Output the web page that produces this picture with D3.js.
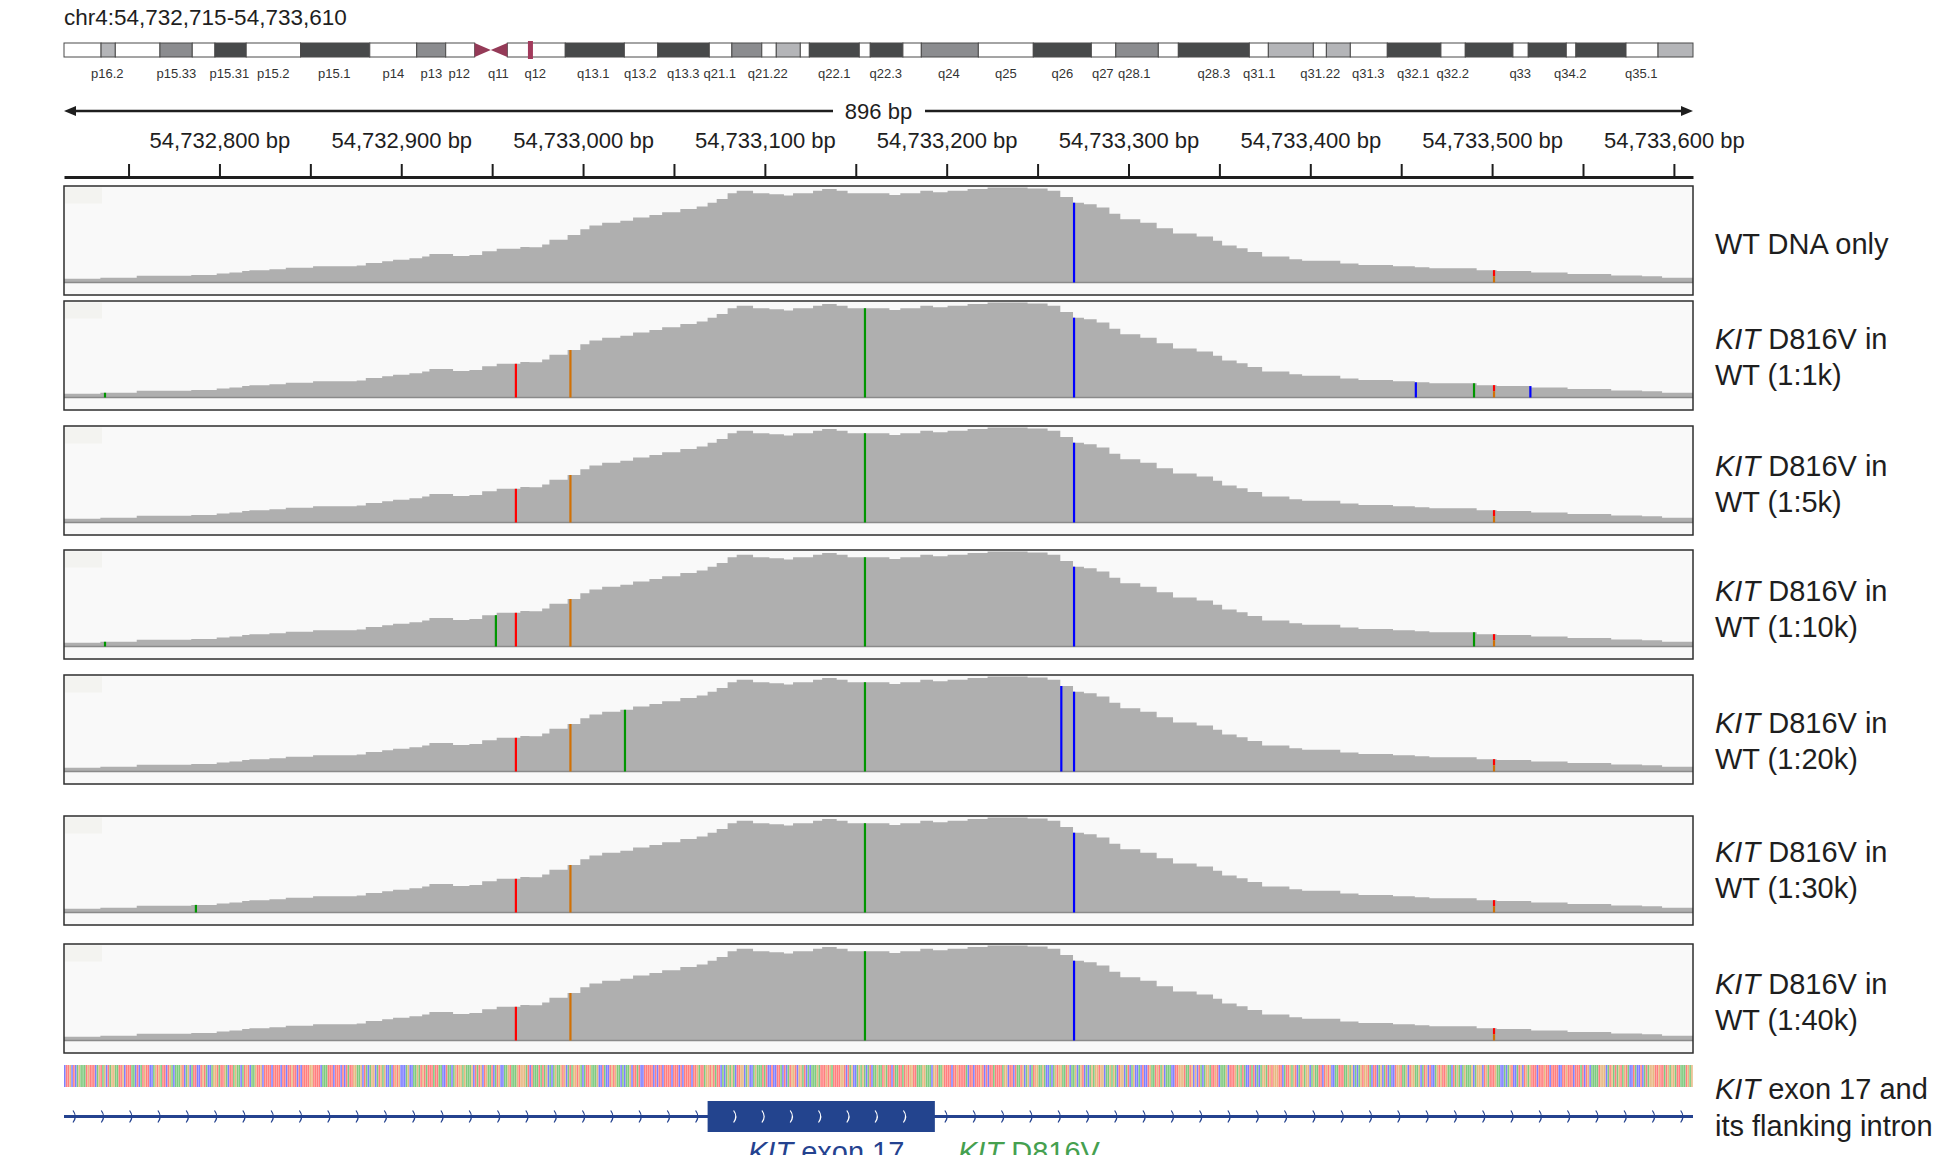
<!DOCTYPE html>
<html>
<head>
<meta charset="utf-8">
<script src="https://cdn.jsdelivr.net/npm/d3@7"></script>
<style>
  body { margin: 0; background: #fff; }
  svg { display: block; font-family: "Liberation Sans", Arial, sans-serif; }
</style>
</head>
<body>
<svg width="1938" height="1155"></svg>
<script>
// region shown (hg38)
const chrom = 'chr4';
const regionStart = 54732715;
const regionEnd = 54733610;
const chrLengthMb = 191.15;

// chr4 ideogram bands (start in Mb, stain)
const bandStartMb = [0, 4.35, 6.02, 11.26, 15.05, 17.71, 21.38, 27.76, 35.88, 41.39, 44.79, 48.19, 50.08,
  52.02, 58.82, 65.75, 69.68, 75.72, 78.37, 81.88, 83.58, 86.4, 87.46, 93.32, 94.61, 98.44, 100.6,
  107.29, 113.74, 120.55, 123.42, 128.41, 130.76, 139.09, 141.32, 146.6, 148.13, 150.94, 155.28,
  161.57, 164.43, 170.02, 171.82, 176.28, 177.41, 183.29, 187.05];
const bandStain = ['gneg', 'gpos25', 'gneg', 'gpos50', 'gneg', 'gpos75', 'gneg', 'gpos100', 'gneg', 'gpos50',
  'gneg', 'acenL', 'acenR', 'gneg', 'gpos100', 'gneg', 'gpos75', 'gneg', 'gpos50', 'gneg', 'gpos25', 'gneg',
  'gpos100', 'gneg', 'gpos100', 'gneg', 'gpos50', 'gneg', 'gpos100', 'gneg', 'gpos50', 'gneg', 'gpos100',
  'gneg', 'gpos25', 'gneg', 'gpos25', 'gneg', 'gpos100', 'gneg', 'gpos100', 'gneg', 'gpos100', 'gneg',
  'gpos100', 'gneg', 'gpos25'];
const bandLabels = ['p16.2', 'p15.33', 'p15.31', 'p15.2', 'p15.1', 'p14', 'p13', 'p12', 'q11', 'q12',
  'q13.1', 'q13.2', 'q13.3', 'q21.1', 'q21.22', 'q22.1', 'q22.3', 'q24', 'q25', 'q26', 'q27', 'q28.1',
  'q28.3', 'q31.1', 'q31.22', 'q31.3', 'q32.1', 'q32.2', 'q33', 'q34.2', 'q35.1'];
const bandLabelMb = [5.08, 13.18, 19.4, 24.56, 31.72, 38.64, 43.1, 46.38, 50.96, 55.3, 62.11, 67.63,
  72.67, 76.95, 82.58, 90.39, 96.43, 103.84, 110.51, 117.14, 121.89, 125.59, 134.93, 140.26, 147.41,
  153.04, 158.32, 162.96, 170.88, 176.75, 185.08];

// coverage profile: step starts (bp from regionStart) and relative depth (% of max)
const covOffset = [0, 20, 40, 70, 84, 91, 98, 102, 113, 122, 137, 161, 166, 175, 181, 190, 197, 201, 214, 223,
  230, 238, 251, 256, 263, 267, 277, 284, 289, 296, 306, 313, 322, 329, 339, 348, 354, 359, 365, 370,
  379, 388, 396, 401, 412, 417, 425, 431, 449, 454, 460, 471, 478, 486, 497, 508, 530, 541, 548, 555,
  561, 568, 575, 581, 592, 601, 610, 623, 632, 637, 645, 651, 659, 674, 681, 702, 712, 731, 743, 751,
  777, 788, 807, 827, 851, 868, 879];
const covDepth = [4, 5, 7, 8, 9.5, 10.5, 12, 13, 14, 15.5, 17, 18, 20.5, 22.5, 24, 25.5, 27.5, 30, 28, 29,
  33, 35.5, 37.5, 37, 40, 45, 50, 56, 60, 63, 65, 68.5, 71, 74, 77.5, 80, 84, 88, 94, 96.5,
  94, 93, 91.5, 94, 96.5, 98.5, 96.5, 94, 94, 92, 94, 96.5, 95, 96.5, 98.5, 100, 99, 96.5, 90, 84,
  82.5, 79, 72.5, 66.5, 63, 57, 51.5, 48.5, 44, 39, 36, 32, 27.5, 24.5, 23, 20, 18.5, 17, 16, 15,
  13, 12, 10.5, 9, 7.5, 6.5, 5];

// samples
const sampleRatios = ['', '1:1k', '1:5k', '1:10k', '1:20k', '1:30k', '1:40k'];

// mismatch columns per sample: [position, bases (top to bottom)]
const shared = [[54732963, 'T'], [54732993, 'G'], [54733155, 'A'], [54733270, 'C'], [54733501, 'TG']];
const mismatches = [
  [[54733270, 'C'], [54733501, 'TG']],
  shared.concat([[54732737, 'A'], [54733458, 'C'], [54733490, 'A'], [54733521, 'C']]),
  shared,
  shared.concat([[54732737, 'A'], [54732952, 'A'], [54733490, 'A']]),
  shared.concat([[54733023, 'A'], [54733263, 'C']]),
  shared.concat([[54732787, 'A']]),
  shared
];

// reference sequence, intron 16 / exon 17 / intron 17
const refSeq =
  'CTTGCTCAGAAATGTTTCAGTAGCTAGGAATTGCTTTAACTCATGTTCCA' +
  'GTGATTCTGACAAAGTCAGCATTCCTGTACCAGGTATTGACTTAGAACAT' +
  'GTCAAGTTGCTTTTCTTTTCTTCTTGTTCTCTTTTGGTTTTCAAATTTCT' +
  'TTCTCTATTGGAAGCTACAGGCATGAGCCACTGTGCCCAGCCAAGATGTA' +
  'TTTATTAACCTAACAGTGGAGAAAGCTATGCTGAATCATGCCAAGTAAAG' +
  'TGGGATCTAAATATAGCACAGAAGTGCATAGGTGACATTGAAAGCCTACC' +
  'TGTGAACACAAGCTTATCCTTTTTCTCTTCTTTTCTTTCTCTTTTCTTGA' +
  'TTAG' +
  'GTGTATTCACAGAGACTTGGCAGCCAGAAATATCCTCCTTACTCATGGTC' +
  'GGATCACAAAGATTTGTGATTTTGGTCTAGCCAGAGACATCAAGAATGAT' +
  'TCTAATTATGTGGTTAAAGGAAACG' +
  'GTAAGTTTTCTTGTTTTACTTCTTTGTCTCTTATTTTAGGCTTCTAATGC' +
  'AGCATGGAAGACCACAGTGGAATGCAAGCAGTCACAGAGGTGGCAAGAGA' +
  'CTGGCATCAGCCACTCCTGAATGTAGCAAACCTTGGGTAATGCGCTACAG' +
  'GATTGTCAAAGCTTTGAGATACCTATCACAGGATGTGGGTTCATTGAGTC' +
  'ATGAGGCAGAATTCTGTGCCAATTTAAGAGCACAGTGGTACTTCAGCATC' +
  'ACCTGGTAAGCTGGAAGCATGCTCCAGTGTTGAACTAGACAGAAAGCAGG' +
  'GCTGATTTGAACCACAGTCCATGCTGAGTTTCTTTGTTCTTTTCCTTGTT' +
  'TCTTTATCTGCAAAATGGGCATGATAGTAGTACCTACCTCATAGGGTTGT' +
  'TATGAGGATTAAATGAG';

const exonStart = 54733069, exonEnd = 54733193;

// layout
const left = 64, right = 1693;
const panelTop = [186, 301, 426, 550, 675, 816, 944];
const panelH = 109;
const labelBase = [254, 349, 476, 601, 733, 862, 994];

const baseColor = { A: '#009600', C: '#0000ff', G: '#d17105', T: '#ff0000' };
const stainColor = { gneg: '#ffffff', gpos25: '#b4b5b8', gpos50: '#8b8c8f', gpos75: '#47494a', gpos100: '#47494a' };
const ink = '#1e1e1e';
const kitBlue = '#24428f';

const svg = d3.select('svg');
svg.append('rect').attr('width', 1938).attr('height', 1155).attr('fill', '#fff');

const x = d3.scaleLinear().domain([regionStart - 0.5, regionEnd + 0.5]).range([left, right]);
const xMb = d3.scaleLinear().domain([0, chrLengthMb]).range([left, right]);
const bpW = x(1) - x(0);

// title
svg.append('text').attr('x', left).attr('y', 25)
  .attr('font-size', 22.5).attr('fill', ink)
  .text(chrom + ':' + d3.format(',')(regionStart) + '-' + d3.format(',')(regionEnd));

// ideogram
const ideo = svg.append('g');
const bands = bandStartMb.map((s, i) => ({
  start: s, end: i < bandStartMb.length - 1 ? bandStartMb[i + 1] : chrLengthMb, stain: bandStain[i]
}));
const iy = 43, ih = 14;
ideo.selectAll('rect.band')
  .data(bands.filter(b => !b.stain.startsWith('acen')))
  .join('rect').attr('class', 'band')
  .attr('x', d => xMb(d.start)).attr('y', iy)
  .attr('width', d => xMb(d.end) - xMb(d.start)).attr('height', ih)
  .attr('fill', d => stainColor[d.stain])
  .attr('stroke', '#4a4a4a').attr('stroke-width', 1);
ideo.selectAll('path.acen')
  .data(bands.filter(b => b.stain.startsWith('acen')))
  .join('path').attr('class', 'acen')
  .attr('d', d => {
    const a = xMb(d.start), b = xMb(d.end), m = iy + ih / 2;
    return d.stain === 'acenL'
      ? `M${a},${iy}L${b},${m}L${a},${iy + ih}Z`
      : `M${b},${iy}L${a},${m}L${b},${iy + ih}Z`;
  })
  .attr('fill', '#943a57');
ideo.append('rect')
  .attr('x', xMb(regionStart / 1e6) - 2.5).attr('y', iy - 2)
  .attr('width', 5).attr('height', ih + 4)
  .attr('fill', '#a23a5c');
ideo.selectAll('text')
  .data(bandLabels)
  .join('text')
  .attr('x', (d, i) => xMb(bandLabelMb[i])).attr('y', 78)
  .attr('text-anchor', 'middle').attr('font-size', 13).attr('fill', '#333')
  .text(d => d);

// span arrow
const ay = 111;
svg.append('line').attr('x1', left + 8).attr('x2', right - 8).attr('y1', ay).attr('y2', ay)
  .attr('stroke', ink).attr('stroke-width', 2.5);
svg.append('path').attr('d', `M${left},${ay}L${left + 12},${ay - 5}L${left + 12},${ay + 5}Z`).attr('fill', ink);
svg.append('path').attr('d', `M${right},${ay}L${right - 12},${ay - 5}L${right - 12},${ay + 5}Z`).attr('fill', ink);
svg.append('rect').attr('x', 833).attr('y', ay - 8).attr('width', 92).attr('height', 16).attr('fill', '#fff');
svg.append('text').attr('x', (x(regionStart) + x(regionEnd)) / 2).attr('y', ay + 8)
  .attr('text-anchor', 'middle').attr('font-size', 22).attr('fill', ink)
  .text((regionEnd - regionStart + 1) + ' bp');

// ruler
const axis = d3.axisTop(x)
  .tickValues(d3.range(54732750, regionEnd + 1, 50))
  .tickSize(13).tickSizeOuter(0).tickPadding(16)
  .tickFormat(d => d % 100 === 0 ? d3.format(',')(d) + ' bp' : '');
const ruler = svg.append('g').attr('transform', 'translate(0,177)').call(axis);
ruler.select('.domain').attr('stroke', ink).attr('stroke-width', 3);
ruler.selectAll('.tick line').attr('stroke', ink).attr('stroke-width', 2);
ruler.selectAll('.tick text').attr('font-size', 22).attr('fill', ink)
  .attr('font-family', '"Liberation Sans", Arial, sans-serif');

// coverage tracks
const y = d3.scaleLinear().domain([0, 100]).range([96.5, 1.5]);
const covData = covOffset.map((o, i) => ({ o, d: covDepth[i] }))
  .concat([{ o: regionEnd - regionStart + 1, d: covDepth[covDepth.length - 1] }]);
const area = d3.area()
  .curve(d3.curveStepAfter)
  .x(d => x(regionStart + d.o - 0.5))
  .y0(y(0)).y1(d => y(d.d));
const depthAt = pos => covDepth[d3.bisectRight(covOffset, pos - regionStart) - 1];

panelTop.forEach((top, i) => {
  const g = svg.append('g').attr('transform', `translate(0,${top})`);
  g.append('rect').attr('x', left).attr('y', 0).attr('width', right - left).attr('height', panelH)
    .attr('fill', '#f9f9f9');
  g.append('rect').attr('x', left + 1).attr('y', 1.5).attr('width', 37).attr('height', 16).attr('fill', '#f3f3f0');
  g.append('path').datum(covData).attr('d', area).attr('fill', '#afafaf');
  g.append('line').attr('x1', left).attr('x2', right).attr('y1', y(0)).attr('y2', y(0))
    .attr('stroke', '#8a8a8a').attr('stroke-width', 1.5);

  // mismatch columns, split by allele
  const segs = [];
  mismatches[i].forEach(([pos, bases]) => {
    const dep = depthAt(pos);
    bases.split('').forEach((b, k) => {
      segs.push({ pos, base: b, hi: dep * (1 - k / bases.length), lo: dep * (1 - (k + 1) / bases.length) });
    });
  });
  g.selectAll('rect.mm').data(segs).join('rect').attr('class', 'mm')
    .attr('x', d => x(d.pos) - 1).attr('width', 2.2)
    .attr('y', d => y(d.hi)).attr('height', d => y(d.lo) - y(d.hi))
    .attr('fill', d => baseColor[d.base]);

  g.append('rect').attr('x', left).attr('y', 0).attr('width', right - left).attr('height', panelH)
    .attr('fill', 'none').attr('stroke', '#2e2e2e').attr('stroke-width', 1.5);

  // sample label
  const t = svg.append('text').attr('x', 1715).attr('font-size', 29).attr('fill', ink);
  if (i === 0) {
    t.attr('y', labelBase[i]).text('WT DNA only');
  } else {
    const l1 = t.append('tspan').attr('x', 1715).attr('y', labelBase[i]);
    l1.append('tspan').attr('font-style', 'italic').text('KIT');
    l1.append('tspan').text(' D816V in');
    t.append('tspan').attr('x', 1715).attr('y', labelBase[i] + 36).text('WT (' + sampleRatios[i] + ')');
  }
});

// reference sequence
svg.append('g').selectAll('rect')
  .data(refSeq.split(''))
  .join('rect')
  .attr('x', (d, i) => x(regionStart + i - 0.5))
  .attr('y', 1065).attr('width', bpW * 0.85).attr('height', 22)
  .attr('fill', d => baseColor[d]).attr('opacity', 0.5);

// gene track
const gy = 1116.5;
const gene = svg.append('g');
gene.append('line').attr('x1', left).attr('x2', right).attr('y1', gy).attr('y2', gy)
  .attr('stroke', kitBlue).attr('stroke-width', 3);
const chevron = cx => `M${cx - 2},${gy - 6}Q${cx + 2.5},${gy} ${cx - 2},${gy + 6}`;
const exA = x(exonStart - 0.5), exB = x(exonEnd + 0.5);
const intronMarks = d3.range(left + 11, exA - 8, 28.3).concat(d3.range(exB + 12, right - 4, 28.3));
gene.selectAll('path.chev').data(intronMarks).join('path').attr('class', 'chev')
  .attr('d', chevron).attr('fill', 'none').attr('stroke', kitBlue).attr('stroke-width', 1.2);
gene.append('rect').attr('x', exA).attr('y', 1101).attr('width', exB - exA).attr('height', 31)
  .attr('fill', '#23448e');
gene.selectAll('path.echev').data(d3.range(exA + 28, exB - 10, 28.3)).join('path').attr('class', 'echev')
  .attr('d', chevron).attr('fill', 'none').attr('stroke', '#fff').attr('stroke-width', 1.2);

// gene labels (cut by the bottom edge, as in the figure)
const exLab = svg.append('text').attr('x', 748).attr('y', 1162).attr('font-size', 29).attr('fill', kitBlue);
exLab.append('tspan').attr('font-style', 'italic').text('KIT');
exLab.append('tspan').text(' exon 17');
const vLab = svg.append('text').attr('x', 958).attr('y', 1162).attr('font-size', 29).attr('fill', '#45a04f');
vLab.append('tspan').attr('font-style', 'italic').text('KIT');
vLab.append('tspan').text(' D816V');

const trk = svg.append('text').attr('x', 1715).attr('font-size', 29).attr('fill', ink);
const t1 = trk.append('tspan').attr('x', 1715).attr('y', 1099);
t1.append('tspan').attr('font-style', 'italic').text('KIT');
t1.append('tspan').text(' exon 17 and');
trk.append('tspan').attr('x', 1715).attr('y', 1136).text('its flanking intron');
</script>
</body>
</html>
